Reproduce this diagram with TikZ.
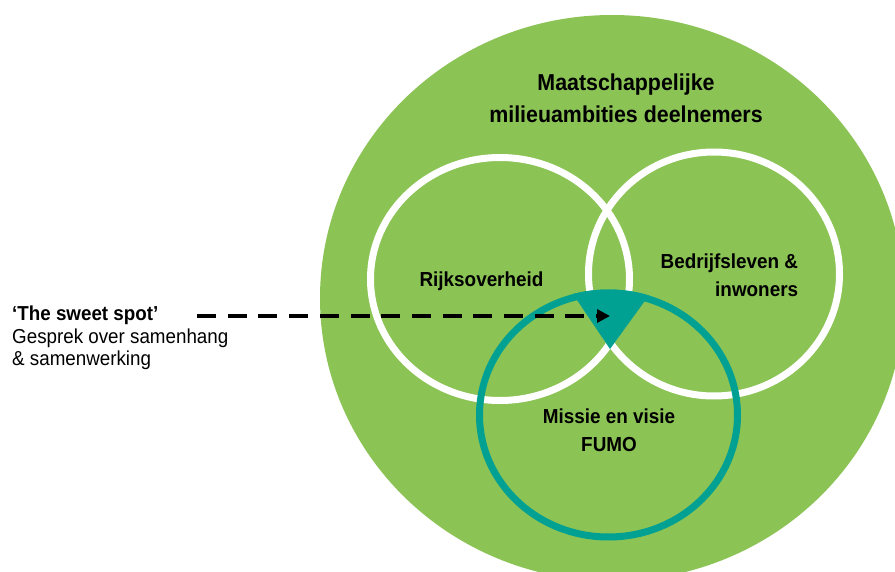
\documentclass[tikz,border=0pt]{standalone}
\usepackage{fontspec}
\setmainfont{Liberation Sans}[FakeStretch=0.93]
\usetikzlibrary{arrows.meta}
\definecolor{leaf}{RGB}{139,195,85}
\definecolor{fumoteal}{RGB}{0,160,146}
\tikzset{
  whitering/.style={draw=white, line width=7pt},
  tealring/.style={draw=fumoteal, line width=7pt},
  lbl/.style={inner sep=0pt, text=black, font=\fontsize{20.3}{28}\selectfont\bfseries},
  titlelbl/.style={inner sep=0pt, text=black, font=\fontsize{23}{32}\selectfont\bfseries},
  sidelbl/.style={inner sep=0pt, text=black, font=\fontsize{20.2}{22.4}\selectfont},
  sweetarrow/.style={draw=black, line width=4pt, dash pattern=on 19pt off 11.7pt,
    -{Triangle[length=13pt,width=13pt]}}
}
\begin{document}
\begin{tikzpicture}[x=1pt,y=-1pt]
\useasboundingbox (0,0) rectangle (895,572);
\clip (0,0) rectangle (895,572);
% outer green area
\fill[leaf] (612,298) ellipse [x radius=292pt, y radius=283pt];
% white rings
\draw[whitering] (500,279) ellipse [x radius=129.5pt, y radius=121.5pt];
\draw[whitering] (714,274) ellipse [x radius=125.5pt, y radius=122pt];
% sweet spot
\begin{scope}
  \clip (608.5,415) ellipse [x radius=132.5pt, y radius=125.5pt];
  \fill[fumoteal] (563.5,280) -- (610,349) -- (660,280) -- cycle;
\end{scope}
% teal ring
\draw[tealring] (608.5,415) ellipse [x radius=129pt, y radius=122pt];
% labels (base anchor of a multi-line node = baseline of its last line)
\node[titlelbl, align=center, anchor=base] (maat) at (626,122.7)
  {Maatschappelijke\\milieuambities deelnemers};
\node[lbl, anchor=base] (rijk) at (481.5,287) {Rijksoverheid};
\node[lbl, align=right, anchor=base east] (bedr) at (798.3,296.7)
  {Bedrijfsleven \&\\inwoners};
\node[lbl, align=center, anchor=base] (fumo) at (609,451.3)
  {Missie en visie\\FUMO};
\node[sidelbl, align=left, anchor=base west] (sweettxt) at (12,365.5)
  {\textbf{‘The sweet spot’}\\Gesprek over samenhang\\\& samenwerking};
% arrow
\coordinate (dashstart) at (197,316);
\coordinate (spot) at (610,316);
\draw[sweetarrow] (dashstart) -- (spot);
\end{tikzpicture}
\end{document}
